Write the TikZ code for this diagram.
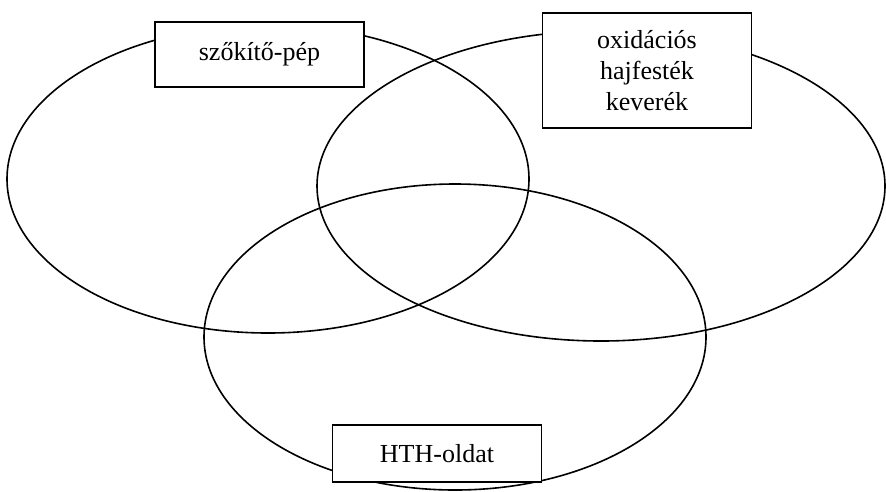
\documentclass[tikz,border=0pt]{standalone}
\usepackage{fontspec}
\setmainfont{Liberation Serif}
\usepackage{tikz}
\usetikzlibrary{positioning}
\tikzstyle{setbox}=[draw,fill=white,line width=1.6pt,align=center,inner sep=0pt,minimum width=209pt,font=\fontsize{26}{31}\selectfont]
\tikzstyle{setline}=[line width=1.6pt]

\begin{document}
\begin{tikzpicture}[x=1pt,y=-1pt]
      \useasboundingbox (0,0) rectangle (886,491);
      % halmazok
      \draw[setline] (268,179) ellipse [x radius=261, y radius=154];
      \draw[setline] (601,186) ellipse [x radius=284, y radius=155];
      \draw[setline] (455,337) ellipse [x radius=251, y radius=153];
      % cimkek
      \node[setbox,minimum height=65pt] at (259.5,54.5) (pep) {sz\H{o}kít\H{o}-pép};
      \node[setbox,minimum height=115pt] at (647,70.5) (festek) {oxidációs\\hajfesték\\keverék};
      \node[setbox,minimum height=57pt] at (437,453.5) (hth) {HTH-oldat};
\end{tikzpicture}
\end{document}
